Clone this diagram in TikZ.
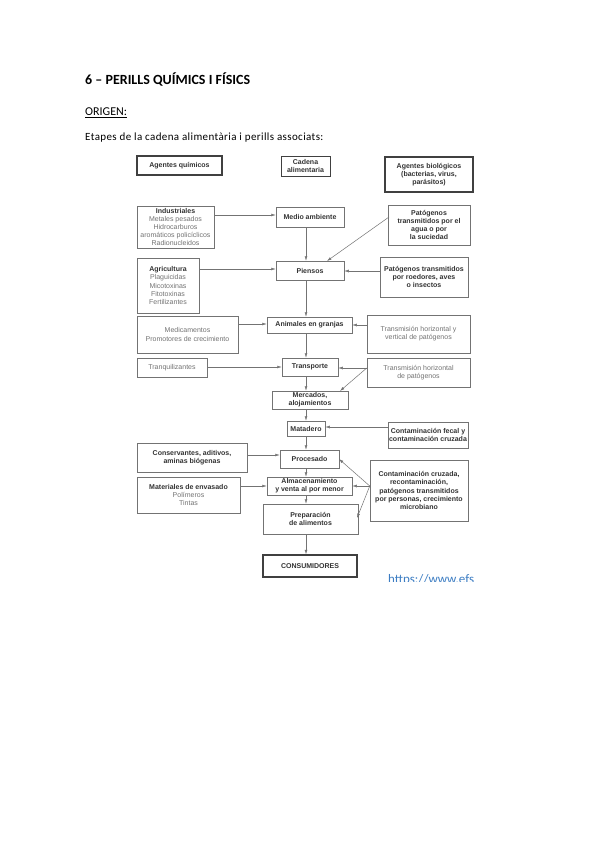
\documentclass[tikz,border=0pt]{standalone}
\usepackage{fontspec}
\setmainfont{Carlito}
\newfontfamily\arialf{Liberation Sans}
\newfontfamily\spacedf[LetterSpace=3.5]{Carlito}
\usetikzlibrary{arrows.meta}
\newcommand\lgt[1]{{\color{black!55}#1}}
\begin{document}
\begin{tikzpicture}[x=1pt,y=-1pt,
  sz/.style 2 args={minimum width=#1pt, minimum height=#2pt},
  box/.style={draw=black!55, line width=0.5pt, inner sep=1pt, align=center,
    font=\arialf\fontsize{7}{8.2}\selectfont, text=black!80},
  bbox/.style={box, font=\arialf\bfseries\fontsize{7}{8.2}\selectfont},
  hbox/.style={bbox, draw=black!75, line width=1.3pt},
  arr/.style={draw=black!55, line width=0.5pt, -{Latex[length=4.5pt,width=2.8pt]}},
]
\useasboundingbox[fill=white] (0,0) rectangle (599,848);

% page text
\node[anchor=base west, inner sep=0, font=\bfseries\fontsize{14}{16}\selectfont] (title) at (85,85) {6 -- PERILLS QUÍMICS I FÍSICS};
\node[anchor=base west, inner sep=0, font=\fontsize{12}{14}\selectfont] (orig) at (85,116) {\underline{ORIGEN:}};
\node[anchor=base west, inner sep=0, font=\spacedf\fontsize{11}{13}\selectfont] (etap) at (85,140) {Etapes de la cadena alimentària i perills associats:};

% header boxes
\node[hbox, sz={85}{19}] (aq) at (179.5,165.5) {Agentes químicos};
\node[hbox, sz={49}{20}, line width=0.9pt] (cad) at (305.5,166) {Cadena\\alimentaria};
\node[hbox, sz={88}{35}] (ab) at (429,174.5) {Agentes biológicos\\(bacterias, virus,\\parásitos)};

% central chain
\node[bbox, sz={68}{20}] (ma) at (310,217) {Medio ambiente};
\node[bbox, sz={68}{19}] (pie) at (310,270.5) {Piensos};
\node[bbox, sz={85}{16}] (ani) at (309.5,325) {Animales en granjas};
\node[bbox, sz={56}{18}] (trp) at (310,367) {Transporte};
\node[bbox, sz={76}{18}] (mer) at (310,400) {Mercados,\\alojamientos};
\node[bbox, sz={38}{15}] (mat) at (306,428.5) {Matadero};
\node[bbox, sz={59}{18}] (pro) at (309.5,459) {Procesado};
\node[bbox, sz={85}{18}] (alm) at (309.5,486) {Almacenamiento\\y venta al por menor};
\node[bbox, sz={95}{30}] (prep) at (310.5,519) {Preparación\\de alimentos};
\node[hbox, sz={94}{22}] (cons) at (310,566) {CONSUMIDORES};

% left boxes
\node[box, sz={77}{42}] (ind) at (175.5,227) {\textbf{Industriales}\\\lgt{Metales pesados}\\\lgt{Hidrocarburos}\\\lgt{aromáticos policíclicos}\\\lgt{Radionucleidos}};
\node[box, sz={62}{55}] (agr) at (168,285.5) {\textbf{Agricultura}\\\lgt{Plaguicidas}\\\lgt{Micotoxinas}\\\lgt{Fitotoxinas}\\\lgt{Fertilizantes}};
\node[box, sz={101}{37}] (med) at (187.5,334.5) {\lgt{Medicamentos}\\\lgt{Promotores de crecimiento}};
\node[box, sz={70}{19}] (tra) at (172,367.5) {\lgt{Tranquilizantes}};
\node[bbox, sz={110}{29}] (con) at (192,457.5) {Conservantes, aditivos,\\aminas biógenas};
\node[box, sz={103}{36}] (env) at (188.5,495) {\textbf{Materiales de envasado}\\\lgt{Polímeros}\\\lgt{Tintas}};

% right boxes
\node[bbox, sz={82}{40}] (agua) at (429,225) {Patógenos\\transmitidos por el\\agua o por\\la suciedad};
\node[bbox, sz={88}{40}] (roe) at (424,277) {Patógenos transmitidos\\por roedores, aves\\o insectos};
\node[box, sz={103}{38}] (thv) at (418.5,334) {\lgt{Transmisión horizontal y}\\\lgt{vertical de patógenos}};
\node[box, sz={103}{29}] (th) at (418.5,372.5) {\lgt{Transmisión horizontal}\\\lgt{de patógenos}};
\node[bbox, sz={80}{26}] (cf) at (428,435) {Contaminación fecal y\\contaminación cruzada};
\node[bbox, sz={98}{61}] (cc) at (419,490.5) {Contaminación cruzada,\\recontaminación,\\patógenos transmitidos\\por personas, crecimiento\\microbiano};

% spine
\coordinate (sp) at (306,0);
\draw[arr] (ma.south -| sp) -- (pie.north -| sp);
\draw[arr] (pie.south -| sp) -- (ani.north -| sp);
\draw[arr] (ani.south -| sp) -- (trp.north -| sp);
\draw[arr] (trp.south -| sp) -- (mer.north -| sp);
\draw[arr] (mer.south -| sp) -- (mat.north -| sp);
\draw[arr] (mat.south -| sp) -- (pro.north -| sp);
\draw[arr] (pro.south -| sp) -- (alm.north -| sp);
\draw[arr] (alm.south -| sp) -- (prep.north -| sp);
\draw[arr] (prep.south -| sp) -- (cons.north -| sp);

% horizontal inputs
\coordinate (y215) at (0,215);
\coordinate (y269) at (0,269);
\coordinate (y271) at (0,271);
\coordinate (y324) at (0,324);
\coordinate (y325) at (0,325);
\coordinate (y367) at (0,367);
\coordinate (y368) at (0,368);
\coordinate (y427) at (0,427);
\coordinate (y455) at (0,455);
\coordinate (y486) at (0,486);
\draw[arr] (ind.east |- y215) -- (ma.west |- y215);
\draw[arr] (agr.east |- y269) -- (pie.west |- y269);
\draw[arr] (roe.west |- y271) -- (pie.east |- y271);
\draw[arr] (med.east |- y324) -- (ani.west |- y324);
\draw[arr] (thv.west |- y325) -- (ani.east |- y325);
\draw[arr] (tra.east |- y367) -- (trp.west |- y367);
\draw[arr] (th.west |- y368) -- (trp.east |- y368);
\draw[arr] (cf.west |- y427) -- (mat.east |- y427);
\draw[arr] (con.east |- y455) -- (pro.west |- y455);
\draw[arr] (env.east |- y486) -- (alm.west |- y486);
\draw[arr] (cc.west |- y486) -- (alm.east |- y486);

% diagonal inputs
\coordinate (a1) at (389,217);
\coordinate (a2) at (327,261);
\draw[arr] (a1) -- (a2);
\draw[arr] (th.west |- y368) -- (340,391);
\draw[arr] (cc.west |- y486) -- (339,459);
\draw[arr] (cc.west |- y486) -- (357,518);

% cut url
\begin{scope}
\clip (380,560) rectangle (480,581.5);
\node[anchor=base west, inner sep=0, text={rgb,255:red,60;green,125;blue,195}, font=\fontsize{13}{15}\selectfont] (url) at (388,583) {https://www.efs};
\end{scope}
\end{tikzpicture}
\end{document}
